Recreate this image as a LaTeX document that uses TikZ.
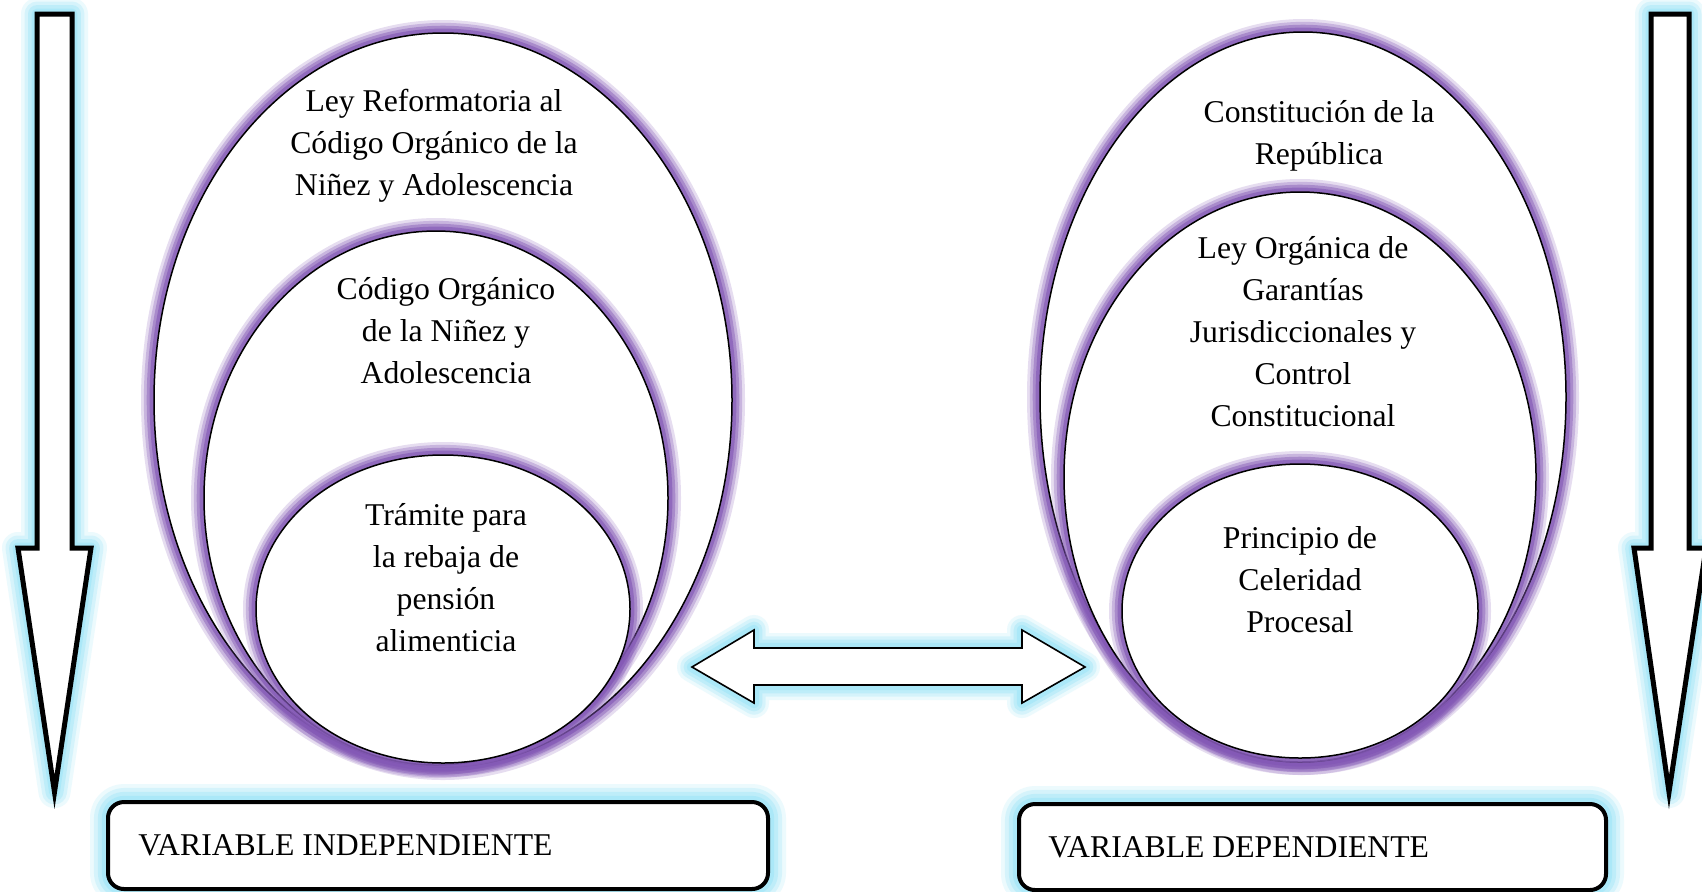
\documentclass[tikz,border=0pt]{standalone}
\usepackage{fontspec}
\setmainfont{Liberation Serif}
\definecolor{glowcyan}{HTML}{A2E6F8}
\definecolor{glowpurple}{HTML}{8459B6}
\newcommand\glowpath[3]{% #1 colour, #2 max width (pt), #3 path
  \draw[#1, line width=#2pt, opacity=0.2, line join=round] #3;
  \draw[#1, line width=0.78*#2pt, opacity=0.3, line join=round] #3;
  \draw[#1, line width=0.56*#2pt, opacity=0.45, line join=round] #3;
  \draw[#1, line width=0.34*#2pt, opacity=0.65, line join=round] #3;
}
\tikzset{
  bubble/.style={fill=white, draw=black, line width=0.75pt},
  bigarrow/.style={fill=white, draw=black, line width=2.5pt},
  thinarrow/.style={fill=white, draw=black, line width=0.8pt},
  varbox/.style={fill=white, draw=black, line width=2pt, rounded corners=8pt},
  bubbletext/.style={align=center, anchor=base, inner sep=0pt,
    font=\fontsize{15.85pt}{21pt}\selectfont},
  boxtext/.style={anchor=base west, inner sep=0pt,
    font=\fontsize{15.85pt}{21pt}\selectfont},
}
\begin{document}
\begin{tikzpicture}[x=0.5pt, y=-0.5pt]
\useasboundingbox (0,0) rectangle (1702,891);
\fill[white] (0,0) rectangle (1702,891);

% vertical arrows
\glowpath{glowcyan}{16}{(37,14) -- (72,14) -- (72,548) -- (91,548) -- (54.5,792) -- (18,548) -- (37,548) -- cycle}
\draw[bigarrow] (37,14) -- (72,14) -- (72,548) -- (91,548) -- (54.5,792) -- (18,548) -- (37,548) -- cycle;

\glowpath{glowcyan}{16}{(1651,14) -- (1689,14) -- (1689,548) -- (1706,548) -- (1669,792) -- (1634,548) -- (1651,548) -- cycle}
\draw[bigarrow] (1651,14) -- (1689,14) -- (1689,548) -- (1706,548) -- (1669,792) -- (1634,548) -- (1651,548) -- cycle;

% double arrow
\glowpath{glowcyan}{15}{(692,667) -- (754,630) -- (754,648) -- (1022,648) -- (1022,630) -- (1085,667) -- (1022,703) -- (1022,685) -- (754,685) -- (754,703) -- cycle}
\draw[thinarrow] (692,667) -- (754,630) -- (754,648) -- (1022,648) -- (1022,630) -- (1085,667) -- (1022,703) -- (1022,685) -- (754,685) -- (754,703) -- cycle;

% boxes
\glowpath{glowcyan}{18}{[rounded corners=8pt] (108,802) rectangle (768,889)}
\draw[varbox] (108,802) rectangle (768,889);
\node[boxtext] (vi) at (138,855) {VARIABLE INDEPENDIENTE};

\glowpath{glowcyan}{18}{[rounded corners=8pt] (1019,804) rectangle (1606,890)}
\draw[varbox] (1019,804) rectangle (1606,890);
\node[boxtext] (vd) at (1048,857) {VARIABLE DEPENDIENTE};

% left ellipses
\glowpath{glowpurple}{13}{(443,400) ellipse [x radius=289, y radius=367]}
\draw[bubble] (443,400) ellipse [x radius=289, y radius=367];
\glowpath{glowpurple}{13}{(436,498) ellipse [x radius=232, y radius=267]}
\draw[bubble] (436,498) ellipse [x radius=232, y radius=267];
\glowpath{glowpurple}{13}{(443,609) ellipse [x radius=187, y radius=154]}
\draw[bubble] (443,609) ellipse [x radius=187, y radius=154];

\node[bubbletext] (l1) at (434,195) {Ley Reformatoria al\\Código Orgánico de la\\Niñez y Adolescencia};
\node[bubbletext] (l2) at (446,383) {Código Orgánico\\de la Niñez y\\Adolescencia};
\node[bubbletext] (l3) at (446,651) {Trámite para\\la rebaja de\\pensión\\alimenticia};

% right ellipses
\glowpath{glowpurple}{13}{(1303,397) ellipse [x radius=263, y radius=365]}
\draw[bubble] (1303,397) ellipse [x radius=263, y radius=365];
\glowpath{glowpurple}{13}{(1300,477) ellipse [x radius=236, y radius=285]}
\draw[bubble] (1300,477) ellipse [x radius=236, y radius=285];
\glowpath{glowpurple}{13}{(1300,611) ellipse [x radius=178, y radius=147]}
\draw[bubble] (1300,611) ellipse [x radius=178, y radius=147];

\node[bubbletext] (r1) at (1319,164) {Constitución de la\\República};
\node[bubbletext] (r2) at (1303,426) {Ley Orgánica de\\Garantías\\Jurisdiccionales y\\Control\\Constitucional};
\node[bubbletext] (r3) at (1300,632) {Principio de\\Celeridad\\Procesal};
\end{tikzpicture}
\end{document}
